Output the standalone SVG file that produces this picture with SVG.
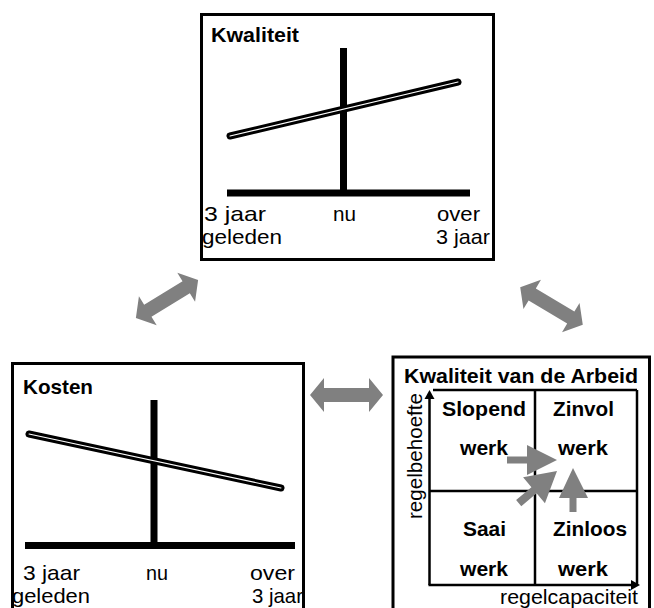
<svg xmlns="http://www.w3.org/2000/svg" width="654" height="608" viewBox="0 0 654 608">
<defs>
<style>
.box{fill:#fff;stroke:#000;stroke-width:3}
.bar{stroke:#000;stroke-width:7;fill:none}
.tl{stroke:#000;stroke-width:7;fill:none;stroke-linecap:round}
.tw{stroke:#fff;stroke-width:1.1;fill:none;stroke-linecap:round}
.g{stroke:#000;stroke-width:2.5;fill:none}
.t{font-family:"Liberation Sans",Arial,sans-serif;font-size:21px;fill:#000}
.b{font-family:"Liberation Sans",Arial,sans-serif;font-size:21px;font-weight:bold;fill:#000}
.ga{fill:#808080}
</style>
<path id="dbl" d="M-36.5,0 L-22.5,-17 L-22.5,-7 L22.5,-7 L22.5,-17 L36.5,0 L22.5,17 L22.5,7 L-22.5,7 L-22.5,17 Z"/>
</defs>
<rect width="654" height="608" fill="#fff"/>

<g id="kwaliteit">
<rect class="box" x="201.5" y="14.5" width="292" height="245"/>
<text class="b" x="211" y="42" textLength="88" lengthAdjust="spacingAndGlyphs">Kwaliteit</text>
<line class="bar" x1="343.5" y1="48" x2="343.5" y2="193"/>
<line class="bar" x1="227" y1="193" x2="470" y2="193"/>
<line class="tl" x1="230" y1="136" x2="458" y2="82"/>
<line class="tw" x1="230" y1="136" x2="458" y2="82"/>
<text class="t" x="204" y="221" textLength="62" lengthAdjust="spacingAndGlyphs">3 jaar</text>
<text class="t" x="333" y="221" textLength="23" lengthAdjust="spacingAndGlyphs">nu</text>
<text class="t" x="437" y="221" textLength="43" lengthAdjust="spacingAndGlyphs">over</text>
<text class="t" x="202" y="244" textLength="80" lengthAdjust="spacingAndGlyphs">geleden</text>
<text class="t" x="436" y="244" textLength="54" lengthAdjust="spacingAndGlyphs">3 jaar</text>
</g>

<g id="kosten">
<rect class="box" x="12.5" y="363.5" width="291" height="260"/>
<text class="b" x="23" y="394" textLength="70" lengthAdjust="spacingAndGlyphs">Kosten</text>
<line class="bar" x1="154" y1="400" x2="154" y2="545.5"/>
<line class="bar" x1="25" y1="545.5" x2="295" y2="545.5"/>
<line class="tl" x1="29" y1="434" x2="281" y2="488"/>
<line class="tw" x1="29" y1="434" x2="281" y2="488"/>
<text class="t" x="23" y="580" textLength="57" lengthAdjust="spacingAndGlyphs">3 jaar</text>
<text class="t" x="146" y="580" textLength="22" lengthAdjust="spacingAndGlyphs">nu</text>
<text class="t" x="250" y="580" textLength="45" lengthAdjust="spacingAndGlyphs">over</text>
<text class="t" x="12" y="603" textLength="78" lengthAdjust="spacingAndGlyphs">geleden</text>
<text class="t" x="252" y="603" textLength="51" lengthAdjust="spacingAndGlyphs">3 jaar</text>
</g>

<g id="arbeid">
<rect class="box" x="393" y="357" width="256.5" height="270"/>
<text class="b" x="404" y="383" textLength="234" lengthAdjust="spacingAndGlyphs">Kwaliteit van de Arbeid</text>
<line class="g" x1="433" y1="390" x2="637" y2="390"/>
<line class="g" x1="637" y1="390" x2="637" y2="585"/>
<line class="g" x1="535" y1="390" x2="535" y2="585"/>
<line class="g" x1="429.5" y1="491" x2="637" y2="491"/>
<line class="g" x1="429.5" y1="397" x2="429.5" y2="585"/>
<line class="g" x1="428.5" y1="585" x2="633" y2="585"/>
<path d="M429.5,390 L434.5,399 L424.5,399 Z" fill="#000"/>
<path d="M640,585 L631,580 L631,590 Z" fill="#000"/>
<text class="b" x="442" y="416" textLength="84" lengthAdjust="spacingAndGlyphs">Slopend</text>
<text class="b" x="460" y="455" textLength="48" lengthAdjust="spacingAndGlyphs">werk</text>
<text class="b" x="553" y="416" textLength="61" lengthAdjust="spacingAndGlyphs">Zinvol</text>
<text class="b" x="558" y="455" textLength="50" lengthAdjust="spacingAndGlyphs">werk</text>
<text class="b" x="463" y="536" textLength="43" lengthAdjust="spacingAndGlyphs">Saai</text>
<text class="b" x="460" y="576" textLength="48" lengthAdjust="spacingAndGlyphs">werk</text>
<text class="b" x="553" y="536" textLength="74" lengthAdjust="spacingAndGlyphs">Zinloos</text>
<text class="b" x="558" y="576" textLength="50" lengthAdjust="spacingAndGlyphs">werk</text>
<text class="t" transform="translate(422,519) rotate(-90)" x="0" y="0" textLength="126" lengthAdjust="spacingAndGlyphs">regelbehoefte</text>
<text class="t" x="500" y="604" textLength="138" lengthAdjust="spacingAndGlyphs">regelcapaciteit</text>
</g>

<g id="connectors">
<use href="#dbl" class="ga" transform="translate(167,299) rotate(-31.5)"/>
<use href="#dbl" class="ga" transform="translate(551.5,306) rotate(31)"/>
<use href="#dbl" class="ga" transform="translate(346.5,395)"/>
<path class="ga" d="M507,456.5 L527,456.5 L527,445 L557,460 L527,475 L527,463.5 L507,463.5 Z"/>
<path class="ga" transform="translate(557,471) rotate(140)" d="M0,0 L30,-17 L30,-4 L50,-4 L50,4 L30,4 L30,17 Z"/>
<path class="ga" d="M569.5,512 L569.5,498 L559,498 L573,468 L588,498 L576.5,498 L576.5,512 Z"/>
</g>
</svg>
